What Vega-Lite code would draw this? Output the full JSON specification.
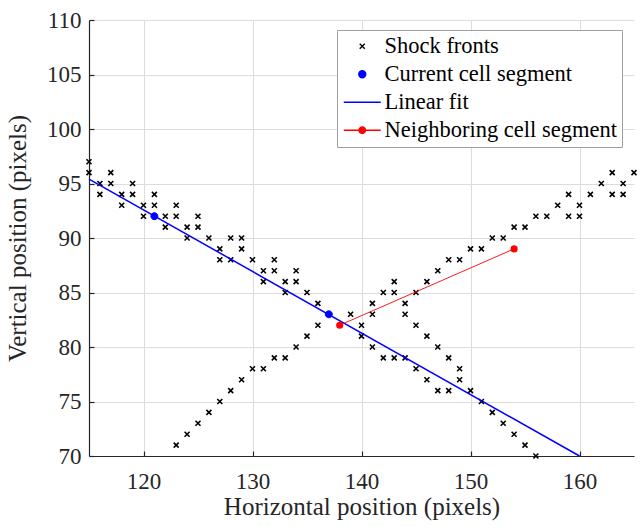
{
  "$schema": "https://vega.github.io/schema/vega-lite/v6.json",
  "autosize": "none",
  "width": 545,
  "height": 436,
  "padding": {"left": 89, "top": 20, "right": 10, "bottom": 71},
  "background": "white",
  "config": {
    "font": "Liberation Serif",
    "view": {"stroke": null},
    "axis": {
      "domainColor": "#262626",
      "domainWidth": 1.2,
      "tickColor": "#262626",
      "tickWidth": 1.2,
      "tickSize": -5,
      "gridColor": "#dcdcdc",
      "gridWidth": 1,
      "labelFont": "Liberation Serif",
      "labelFontSize": 23,
      "labelColor": "#262626",
      "titleFont": "Liberation Serif",
      "titleFontSize": 25,
      "titleFontWeight": "normal",
      "titleColor": "#262626",
      "labelFlush": false
    },
    "axisX": {"labelPadding": 19},
    "axisY": {"labelPadding": 13},
    "legend": {
      "title": null,
      "orient": "none",
      "legendX": 248,
      "legendY": 10,
      "strokeColor": "#a0a0a0",
      "fillColor": "white",
      "padding": 5,
      "labelFont": "Liberation Serif",
      "labelFontSize": 22.5,
      "labelColor": "#000000",
      "labelLimit": 400,
      "symbolSize": 100,
      "symbolStrokeWidth": 1.4,
      "symbolOpacity": 1,
      "symbolOffset": 9,
      "labelOffset": 11,
      "rowPadding": 5
    }
  },
  "datasets": {
    "shock": [
      {"x":115,"y":97,"series":"Shock fronts"},{"x":115,"y":96,"series":"Shock fronts"},
      {"x":116,"y":95,"series":"Shock fronts"},{"x":116,"y":94,"series":"Shock fronts"},
      {"x":117,"y":96,"series":"Shock fronts"},{"x":117,"y":95,"series":"Shock fronts"},
      {"x":118,"y":94,"series":"Shock fronts"},{"x":118,"y":93,"series":"Shock fronts"},
      {"x":119,"y":95,"series":"Shock fronts"},{"x":119,"y":94,"series":"Shock fronts"},
      {"x":120,"y":93,"series":"Shock fronts"},{"x":120,"y":92,"series":"Shock fronts"},
      {"x":121,"y":94,"series":"Shock fronts"},{"x":121,"y":93,"series":"Shock fronts"},
      {"x":122,"y":92,"series":"Shock fronts"},{"x":122,"y":91,"series":"Shock fronts"},
      {"x":123,"y":93,"series":"Shock fronts"},{"x":123,"y":92,"series":"Shock fronts"},{"x":123,"y":71,"series":"Shock fronts"},
      {"x":124,"y":91,"series":"Shock fronts"},{"x":124,"y":90,"series":"Shock fronts"},{"x":124,"y":72,"series":"Shock fronts"},
      {"x":125,"y":92,"series":"Shock fronts"},{"x":125,"y":91,"series":"Shock fronts"},{"x":125,"y":73,"series":"Shock fronts"},
      {"x":126,"y":90,"series":"Shock fronts"},{"x":126,"y":74,"series":"Shock fronts"},
      {"x":127,"y":89,"series":"Shock fronts"},{"x":127,"y":88,"series":"Shock fronts"},{"x":127,"y":75,"series":"Shock fronts"},
      {"x":128,"y":90,"series":"Shock fronts"},{"x":128,"y":88,"series":"Shock fronts"},{"x":128,"y":76,"series":"Shock fronts"},
      {"x":129,"y":90,"series":"Shock fronts"},{"x":129,"y":89,"series":"Shock fronts"},{"x":129,"y":77,"series":"Shock fronts"},
      {"x":130,"y":88,"series":"Shock fronts"},{"x":130,"y":78,"series":"Shock fronts"},
      {"x":131,"y":87,"series":"Shock fronts"},{"x":131,"y":86,"series":"Shock fronts"},{"x":131,"y":78,"series":"Shock fronts"},
      {"x":132,"y":88,"series":"Shock fronts"},{"x":132,"y":87,"series":"Shock fronts"},{"x":132,"y":79,"series":"Shock fronts"},
      {"x":133,"y":86,"series":"Shock fronts"},{"x":133,"y":85,"series":"Shock fronts"},{"x":133,"y":79,"series":"Shock fronts"},
      {"x":134,"y":87,"series":"Shock fronts"},{"x":134,"y":86,"series":"Shock fronts"},{"x":134,"y":80,"series":"Shock fronts"},
      {"x":135,"y":85,"series":"Shock fronts"},{"x":135,"y":81,"series":"Shock fronts"},
      {"x":136,"y":84,"series":"Shock fronts"},{"x":136,"y":82,"series":"Shock fronts"},
      {"x":139,"y":83,"series":"Shock fronts"},
      {"x":140,"y":82,"series":"Shock fronts"},{"x":140,"y":81,"series":"Shock fronts"},
      {"x":141,"y":84,"series":"Shock fronts"},{"x":141,"y":83,"series":"Shock fronts"},{"x":141,"y":80,"series":"Shock fronts"},
      {"x":142,"y":85,"series":"Shock fronts"},{"x":142,"y":79,"series":"Shock fronts"},
      {"x":143,"y":86,"series":"Shock fronts"},{"x":143,"y":85,"series":"Shock fronts"},{"x":143,"y":79,"series":"Shock fronts"},
      {"x":144,"y":84,"series":"Shock fronts"},{"x":144,"y":83,"series":"Shock fronts"},{"x":144,"y":79,"series":"Shock fronts"},
      {"x":145,"y":85,"series":"Shock fronts"},{"x":145,"y":82,"series":"Shock fronts"},{"x":145,"y":78,"series":"Shock fronts"},
      {"x":146,"y":86,"series":"Shock fronts"},{"x":146,"y":81,"series":"Shock fronts"},{"x":146,"y":77,"series":"Shock fronts"},
      {"x":147,"y":87,"series":"Shock fronts"},{"x":147,"y":80,"series":"Shock fronts"},{"x":147,"y":76,"series":"Shock fronts"},
      {"x":148,"y":88,"series":"Shock fronts"},{"x":148,"y":79,"series":"Shock fronts"},{"x":148,"y":76,"series":"Shock fronts"},
      {"x":149,"y":88,"series":"Shock fronts"},{"x":149,"y":78,"series":"Shock fronts"},{"x":149,"y":77,"series":"Shock fronts"},
      {"x":150,"y":89,"series":"Shock fronts"},{"x":150,"y":76,"series":"Shock fronts"},
      {"x":151,"y":89,"series":"Shock fronts"},{"x":151,"y":75,"series":"Shock fronts"},
      {"x":152,"y":90,"series":"Shock fronts"},{"x":152,"y":74,"series":"Shock fronts"},
      {"x":153,"y":90,"series":"Shock fronts"},{"x":153,"y":73,"series":"Shock fronts"},
      {"x":154,"y":91,"series":"Shock fronts"},{"x":154,"y":72,"series":"Shock fronts"},
      {"x":155,"y":91,"series":"Shock fronts"},{"x":155,"y":71,"series":"Shock fronts"},
      {"x":156,"y":92,"series":"Shock fronts"},{"x":156,"y":70,"series":"Shock fronts"},
      {"x":157,"y":92,"series":"Shock fronts"},
      {"x":158,"y":93,"series":"Shock fronts"},
      {"x":159,"y":94,"series":"Shock fronts"},{"x":159,"y":92,"series":"Shock fronts"},
      {"x":160,"y":93,"series":"Shock fronts"},{"x":160,"y":92,"series":"Shock fronts"},
      {"x":161,"y":94,"series":"Shock fronts"},
      {"x":162,"y":95,"series":"Shock fronts"},
      {"x":163,"y":96,"series":"Shock fronts"},{"x":163,"y":94,"series":"Shock fronts"},
      {"x":164,"y":95,"series":"Shock fronts"},{"x":164,"y":94,"series":"Shock fronts"},
      {"x":165,"y":96,"series":"Shock fronts"}
    ],
    "current": [
      {"x":121,"y":92,"series":"Current cell segment"},
      {"x":137,"y":83,"series":"Current cell segment"}
    ],
    "fit": [
      {"x":115,"y":95.4,"series":"Linear fit"},
      {"x":160,"y":70,"series":"Linear fit"}
    ],
    "neighbor": [
      {"x":138,"y":82,"series":"Neighboring cell segment"},
      {"x":154,"y":89,"series":"Neighboring cell segment"}
    ]
  },
  "layer": [
    {
      "data": {"name": "shock"},
      "mark": {"type": "point", "filled": true, "size": 100, "strokeWidth": 1.6, "opacity": 1, "clip": false},
      "encoding": {
        "x": {"field": "x", "type": "quantitative",
          "scale": {"domain": [115, 165], "nice": false, "zero": false},
          "axis": {"title": "Horizontal position (pixels)", "values": [120, 130, 140, 150, 160], "titlePadding": 1}},
        "y": {"field": "y", "type": "quantitative",
          "scale": {"domain": [70, 110], "nice": false, "zero": false},
          "axis": {"title": "Vertical position (pixels)", "values": [70, 75, 80, 85, 90, 95, 100, 105, 110], "titlePadding": 16}},
        "color": {"field": "series", "type": "nominal",
          "scale": {"domain": ["Shock fronts", "Current cell segment", "Linear fit", "Neighboring cell segment"],
                    "range": ["#000000", "#0000ff", "#0000ff", "#ff0000"]}},
        "stroke": {"field": "series", "type": "nominal",
          "scale": {"domain": ["Shock fronts", "Current cell segment", "Linear fit", "Neighboring cell segment"],
                    "range": ["#000000", "#0000ff", "#0000ff", "#ff0000"]}},
        "shape": {"field": "series", "type": "nominal",
          "scale": {"domain": ["Shock fronts", "Current cell segment", "Linear fit", "Neighboring cell segment"],
                    "range": ["M-0.5,-0.5L0.5,0.5M0.5,-0.5L-0.5,0.5", "M-0.7,0A0.7,0.7,0,1,1,0.7,0A0.7,0.7,0,1,1,-0.7,0Z", "M-3.7,0L3.7,0", "M-3.7,0L3.7,0M-0.65,0A0.65,0.65,0,1,1,0.65,0A0.65,0.65,0,1,1,-0.65,0Z"]}}
      }
    },
    {
      "data": {"name": "fit"},
      "mark": {"type": "line", "strokeWidth": 1.5},
      "encoding": {
        "x": {"field": "x", "type": "quantitative"},
        "y": {"field": "y", "type": "quantitative"},
        "color": {"field": "series", "type": "nominal"}
      }
    },
    {
      "data": {"name": "neighbor"},
      "mark": {"type": "line", "strokeWidth": 0.9},
      "encoding": {
        "x": {"field": "x", "type": "quantitative"},
        "y": {"field": "y", "type": "quantitative"},
        "color": {"field": "series", "type": "nominal"}
      }
    },
    {
      "data": {"name": "neighbor"},
      "mark": {"type": "point", "shape": "circle", "filled": true, "size": 50, "opacity": 1},
      "encoding": {
        "x": {"field": "x", "type": "quantitative"},
        "y": {"field": "y", "type": "quantitative"},
        "color": {"field": "series", "type": "nominal"}
      }
    },
    {
      "data": {"name": "current"},
      "mark": {"type": "point", "filled": true, "size": 100, "strokeWidth": 1, "opacity": 1},
      "encoding": {
        "x": {"field": "x", "type": "quantitative"},
        "y": {"field": "y", "type": "quantitative"},
        "color": {"field": "series", "type": "nominal"},
        "stroke": {"field": "series", "type": "nominal"},
        "shape": {"field": "series", "type": "nominal"}
      }
    }
  ]
}
